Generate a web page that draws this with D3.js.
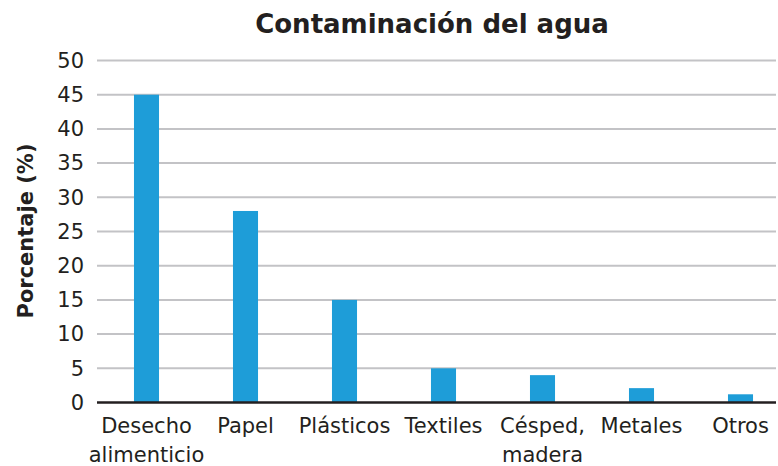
<!DOCTYPE html>
<html>
<head>
<meta charset="utf-8">
<script src="https://cdn.jsdelivr.net/npm/d3@7"></script>
<style>
  body { margin: 0; background: #fff; }
  svg { display: block; font-family: "DejaVu Sans", Verdana, sans-serif; }
</style>
</head>
<body>
<svg id="chart" width="778" height="466"></svg>
<script>
// data
var categorias = [["Desecho", "alimenticio"], ["Papel"], ["Plásticos"], ["Textiles"], ["Césped,", "madera"], ["Metales"], ["Otros"]];
var porcentajes = [45, 28, 15, 5, 4, 2.1, 1.2];
var yTicks = [0, 5, 10, 15, 20, 25, 30, 35, 40, 45, 50];

var svg = d3.select("#chart");
var plotLeft = 97, plotRight = 776, plotTop = 60.5, plotBottom = 402.5;

var keys = categorias.map(function(d) { return d.join(" "); });
var x = d3.scaleBand().domain(keys).range([plotLeft, 790])
          .paddingInner(0.747).paddingOuter(0.3735);
var y = d3.scaleLinear().domain([0, 50]).range([plotBottom, plotTop]);

// title
svg.append("text")
   .attr("x", 432)
   .attr("y", 33)
   .attr("text-anchor", "middle")
   .attr("font-size", "26px")
   .attr("font-weight", "bold")
   .attr("fill", "#231f20")
   .text("Contaminación del agua");

// grid lines
svg.append("g").selectAll("line")
   .data(yTicks.filter(function(d) { return d > 0; }))
   .enter().append("line")
   .attr("x1", plotLeft).attr("x2", plotRight)
   .attr("y1", function(d) { return y(d); })
   .attr("y2", function(d) { return y(d); })
   .attr("stroke", "#c3c3c6")
   .attr("stroke-width", 2);

// y axis tick labels
var yAxis = svg.append("g")
   .attr("transform", "translate(" + plotLeft + ",0)")
   .call(d3.axisLeft(y).tickValues(yTicks).tickSize(0).tickPadding(13));
yAxis.select(".domain").remove();
yAxis.selectAll("text")
   .attr("font-size", "21px")
   .attr("font-family", "DejaVu Sans, sans-serif")
   .attr("fill", "#231f20");

// bars
svg.append("g").selectAll("rect")
   .data(porcentajes)
   .enter().append("rect")
   .attr("x", function(d, i) { return x(keys[i]); })
   .attr("y", function(d) { return y(d); })
   .attr("width", x.bandwidth())
   .attr("height", function(d) { return plotBottom - y(d); })
   .attr("fill", "#1e9dd8");

// baseline
svg.append("line")
   .attr("x1", plotLeft).attr("x2", plotRight)
   .attr("y1", plotBottom).attr("y2", plotBottom)
   .attr("stroke", "#231f20")
   .attr("stroke-width", 2.5);

// x labels (two lines where needed)
var xl = svg.append("g").selectAll("text")
   .data(categorias)
   .enter().append("text")
   .attr("text-anchor", "middle")
   .attr("font-size", "21px")
   .attr("fill", "#231f20")
   .attr("transform", function(d, i) { return "translate(" + (x(keys[i]) + x.bandwidth() / 2) + ",433)"; });
xl.selectAll("tspan")
   .data(function(d) { return d; })
   .enter().append("tspan")
   .attr("x", 0)
   .attr("y", function(d, j) { return j * 28.5; })
   .text(function(d) { return d; });

// y axis title
svg.append("text")
   .attr("transform", "translate(33,231) rotate(-90)")
   .attr("text-anchor", "middle")
   .attr("font-size", "21px")
   .attr("font-weight", "bold")
   .attr("fill", "#231f20")
   .text("Porcentaje (%)");
</script>
</body>
</html>
